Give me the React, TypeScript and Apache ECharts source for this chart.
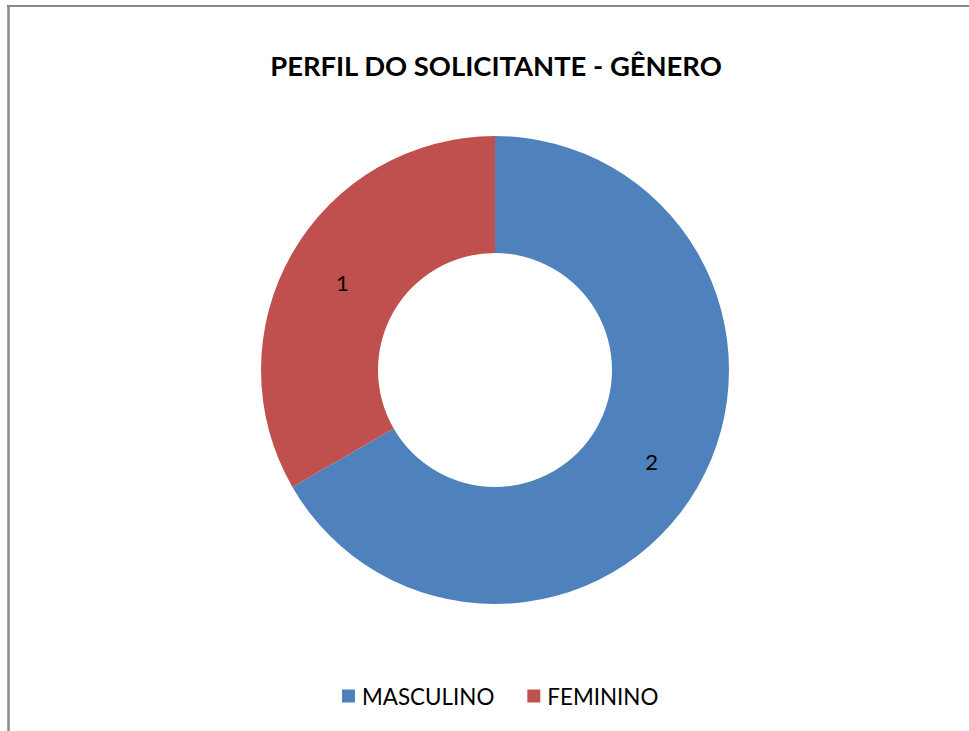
import React, { useEffect, useRef } from "react";
import * as echarts from "echarts";

const titleText = "PERFIL DO SOLICITANTE - GÊNERO";
const categories = ["MASCULINO", "FEMININO"];
const values = [2, 1];
const colors = ["#4F81BD", "#C0504D"];

export default function App() {
  const ref = useRef<HTMLDivElement>(null);
  useEffect(() => {
    if (!ref.current) return;
    const chart = echarts.init(ref.current, null, { renderer: "svg" });
    chart.setOption({
      animation: false,
      backgroundColor: "#ffffff",
      title: {
        text: titleText,
        left: 491,
        top: 47,
        textAlign: "center",
        textStyle: { fontFamily: "Lato", fontWeight: "bold", fontSize: 27.4, color: "#000" },
      },
      legend: {
        data: categories,
        left: 337,
        top: 680,
        icon: "rect",
        itemWidth: 13,
        itemHeight: 13,
        itemGap: 33,
        textStyle: { fontFamily: "Lato", fontSize: 22.4, color: "#000", padding: [0, 0, 0, 2] },
      },
      graphic: [
        { type: "line", shape: { x1: 7, y1: 6, x2: 969, y2: 6 }, style: { stroke: "#888888", lineWidth: 2 } },
        { type: "line", shape: { x1: 8.5, y1: 5, x2: 8.5, y2: 731 }, style: { stroke: "#888888", lineWidth: 2.5 } },
      ],
      series: [
        {
          type: "pie",
          center: [495, 370],
          radius: [117, 234],
          startAngle: 90,
          clockwise: true,
          color: colors,
          itemStyle: { borderWidth: 0 },
          label: {
            show: true,
            position: "inside",
            formatter: "{c}",
            fontFamily: "Lato",
            fontSize: 22,
            color: "#000",
            offset: [2, 2],
          },
          labelLine: { show: false },
          emphasis: { disabled: true },
          data: categories.map((name, i) => ({ name, value: values[i] })),
        },
      ],
    });
    return () => chart.dispose();
  }, []);
  return <div ref={ref} style={{ position: "fixed", left: 0, top: 0, width: 969, height: 731 }} />;
}
